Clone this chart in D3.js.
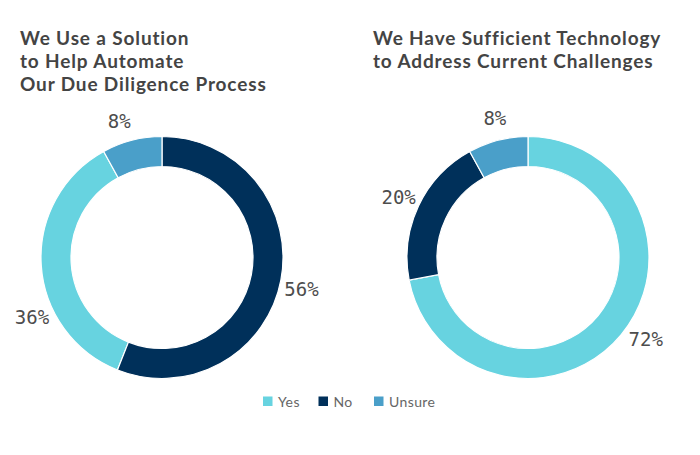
<!DOCTYPE html>
<html>
<head>
<meta charset="utf-8">
<script src="https://cdn.jsdelivr.net/npm/d3@7"></script>
<style>
  html, body { margin: 0; padding: 0; background: #fff; }
  svg { display: block; }
</style>
</head>
<body>
<svg id="chart" width="700" height="455"></svg>
<script>
// ---- data ----
const categories = ["Yes", "No", "Unsure"];
const automateValues = [36, 56, 8];
const technologyValues = [72, 20, 8];
const automateTitle = ["We Use a Solution", "to Help Automate", "Our Due Diligence Process"];
const technologyTitle = ["We Have Sufficient Technology", "to Address Current Challenges"];
const colors = ["#67D3E0", "#00305A", "#4A9FC9"];

// ---- layout (not data) ----
const W = 700, H = 455;
const outerR = 121, innerR = 91, labelR = 143;
// small per-slice label angle nudges (degrees), to mimic reference label placement
const automateLabelNudge = [-21, 2, -3];
const technologyLabelNudge = [-5, 0, 1];

const svg = d3.select("#chart");
svg.append("rect").attr("width", W).attr("height", H).attr("fill", "#fff");

const color = d3.scaleOrdinal().domain(categories).range(colors);
const pie = d3.pie().value(d => d.value).sort((a, b) => b.value - a.value);
const arc = d3.arc().innerRadius(innerR).outerRadius(outerR);

function drawDonut(cx, cy, values, nudges, titleLines, titleX) {
  const data = categories.map((c, i) => ({ cat: c, value: values[i], nudge: nudges[i] }));
  const g = svg.append("g").attr("transform", `translate(${cx},${cy})`);
  const arcs = pie(data);
  g.selectAll("path").data(arcs).join("path")
    .attr("d", arc)
    .attr("fill", d => color(d.data.cat))
    .attr("stroke", "#fff")
    .attr("stroke-width", 1.2);
  g.selectAll("text.lbl").data(arcs).join("text")
    .attr("class", "lbl")
    .attr("x", d => {
      const a = (d.startAngle + d.endAngle) / 2 + d.data.nudge * Math.PI / 180;
      return Math.sin(a) * labelR;
    })
    .attr("y", d => {
      const a = (d.startAngle + d.endAngle) / 2 + d.data.nudge * Math.PI / 180;
      return -Math.cos(a) * labelR;
    })
    .attr("text-anchor", "middle")
    .attr("dominant-baseline", "central")
    .attr("font-family", "'DejaVu Sans Mono', monospace")
    .attr("font-size", 19)
    .attr("fill", "#4d4d4d")
    .text(d => d.data.value + "%");

  const t = svg.append("text")
    .attr("x", titleX).attr("y", 45)
    .attr("font-family", "Lato, 'Open Sans', sans-serif")
    .attr("font-weight", 700)
    .attr("font-size", 19)
    .attr("letter-spacing", 0.85)
    .attr("fill", "#444");
  titleLines.forEach((line, i) => {
    t.append("tspan").attr("x", titleX).attr("dy", i === 0 ? 0 : 23).text(line);
  });
}

drawDonut(162, 257.5, automateValues, automateLabelNudge, automateTitle, 20);
drawDonut(528, 257.5, technologyValues, technologyLabelNudge, technologyTitle, 373);

// ---- legend ----
const legend = svg.append("g").attr("transform", "translate(263,401)");
const legendX = d3.scalePoint().domain(categories).range([0, 111]);
const items = legend.selectAll("g").data(categories).join("g")
  .attr("transform", d => `translate(${legendX(d)},0)`);
items.append("rect")
  .attr("x", 0).attr("y", -4.5).attr("width", 9.5).attr("height", 9.5)
  .attr("fill", d => color(d));
items.append("text")
  .attr("x", 15).attr("y", 0)
  .attr("dominant-baseline", "central")
  .attr("font-family", "Lato, 'Open Sans', sans-serif")
  .attr("font-size", 14)
  .attr("letter-spacing", 0.4)
  .attr("fill", "#666")
  .text(d => d);
</script>
</body>
</html>
